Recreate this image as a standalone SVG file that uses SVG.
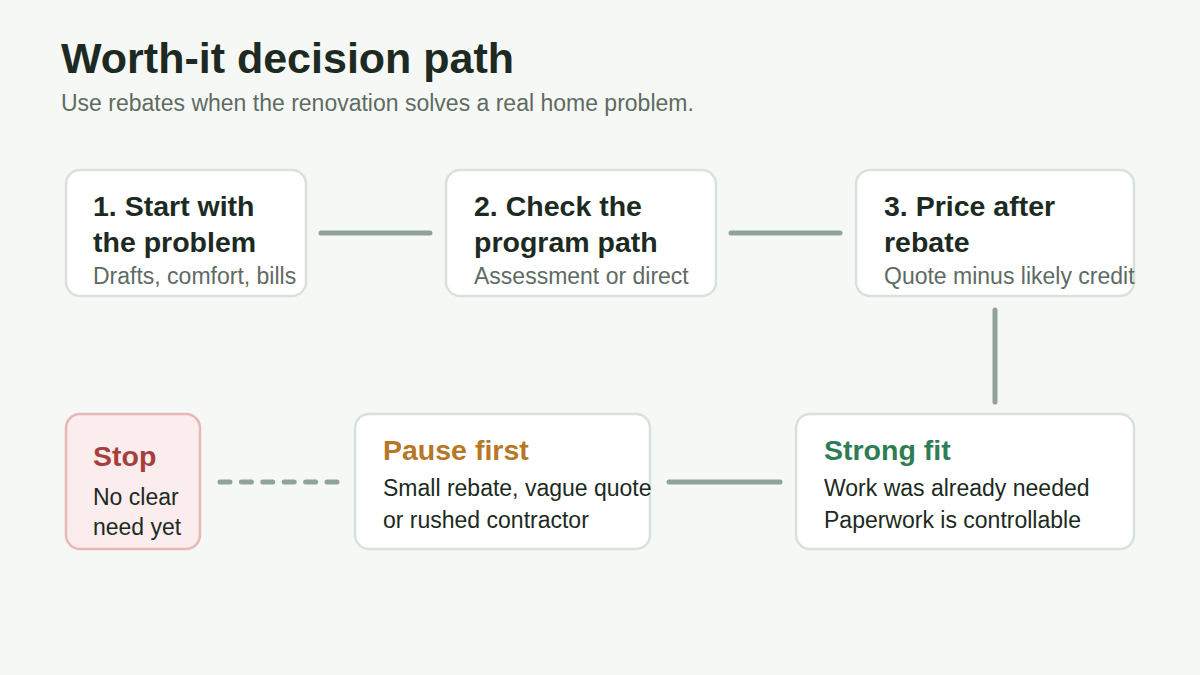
<svg xmlns="http://www.w3.org/2000/svg" width="1200" height="675" viewBox="0 0 1200 675">
<style>
text{font-family:"Liberation Sans",Arial,sans-serif}
.h{font-size:43px;font-weight:700;fill:#1c2a22}
.sub{font-size:23px;fill:#5e6b63}
.t{font-size:28.5px;font-weight:700;fill:#1c2a22}
.s{font-size:23px;fill:#5e6b63}
.b{font-size:23px;fill:#1c2a22}
.box{fill:#ffffff;stroke:#d9e2da;stroke-width:2.5}
.stopbox{fill:#fbeded;stroke:#e6b9b8;stroke-width:2.5}
.c{stroke:#8fa398;stroke-width:5;stroke-linecap:round;fill:none}
</style>
<rect width="1200" height="675" fill="#f6f8f5"/>
<text class="h" x="61" y="73">Worth-it decision path</text>
<text class="sub" x="61" y="111">Use rebates when the renovation solves a real home problem.</text>
<g id="connectors">
<line class="c" x1="321" y1="233" x2="430" y2="233"/>
<line class="c" x1="731" y1="233" x2="840" y2="233"/>
<line class="c" x1="995" y1="310" x2="995" y2="402"/>
<line class="c" x1="669" y1="482" x2="780" y2="482"/>
<line class="c" x1="220" y1="482" x2="337" y2="482" stroke-dasharray="10 11.4"/>
</g>
<g id="n1">
<rect class="box" x="66" y="170" width="240" height="126" rx="14"/>
<text class="t" x="93" y="216">1. Start with</text>
<text class="t" x="93" y="252">the problem</text>
<text class="s" x="93" y="284">Drafts, comfort, bills</text>
</g>
<g id="n2">
<rect class="box" x="446" y="170" width="270" height="126" rx="14"/>
<text class="t" x="474" y="216">2. Check the</text>
<text class="t" x="474" y="252">program path</text>
<text class="s" x="474" y="284">Assessment or direct</text>
</g>
<g id="n3">
<rect class="box" x="856" y="170" width="278" height="126" rx="14"/>
<text class="t" x="884" y="216">3. Price after</text>
<text class="t" x="884" y="252">rebate</text>
<text class="s" x="884" y="284">Quote minus likely credit</text>
</g>
<g id="strong">
<rect class="box" x="796" y="414" width="338" height="135" rx="14"/>
<text class="t" x="824" y="460" style="fill:#2e7d55">Strong fit</text>
<text class="b" x="824" y="496">Work was already needed</text>
<text class="b" x="824" y="528">Paperwork is controllable</text>
</g>
<g id="pause">
<rect class="box" x="355" y="414" width="295" height="135" rx="14"/>
<text class="t" x="383" y="460" style="fill:#b87726">Pause first</text>
<text class="b" x="383" y="496">Small rebate, vague quote</text>
<text class="b" x="383" y="528">or rushed contractor</text>
</g>
<g id="stop">
<rect class="stopbox" x="66" y="414" width="134" height="135" rx="14"/>
<text class="t" x="93" y="466" style="fill:#a7403d">Stop</text>
<text class="b" x="93" y="505">No clear</text>
<text class="b" x="93" y="535">need yet</text>
</g>
</svg>
